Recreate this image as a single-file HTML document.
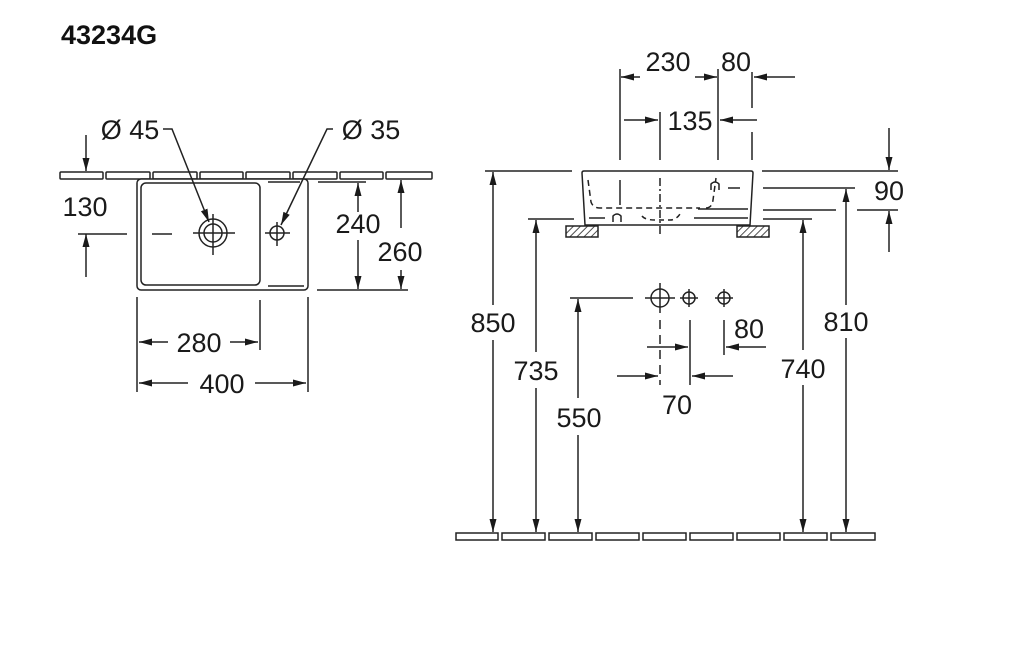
<!DOCTYPE html>
<html><head><meta charset="utf-8"><style>
html,body{margin:0;padding:0;background:#fff;}
svg{display:block;}
text{font-family:"Liberation Sans",sans-serif;fill:#1a1a1a;}
</style></head><body>
<svg width="1024" height="651" viewBox="0 0 1024 651" xmlns="http://www.w3.org/2000/svg">
<defs>
<marker id="a" markerWidth="14" markerHeight="10" refX="13" refY="5" orient="auto" markerUnits="userSpaceOnUse"><path d="M0,1.5 L13,5 L0,8.5 Z" fill="#1a1a1a"/></marker>
<pattern id="h" width="5" height="5" patternUnits="userSpaceOnUse" patternTransform="rotate(45)"><line x1="0" y1="0" x2="0" y2="5" stroke="#222" stroke-width="1.6"/></pattern>
</defs>
<text x="61" y="44" font-size="27" font-weight="bold" style="fill:#111">43234G</text>
<g stroke="#222" stroke-width="1.5" fill="none">
<rect x="60" y="172" width="43" height="7" rx="1"/>
<rect x="106" y="172" width="44" height="7" rx="1"/>
<rect x="153" y="172" width="44" height="7" rx="1"/>
<rect x="200" y="172" width="43" height="7" rx="1"/>
<rect x="246" y="172" width="44" height="7" rx="1"/>
<rect x="293" y="172" width="44" height="7" rx="1"/>
<rect x="340" y="172" width="43" height="7" rx="1"/>
<rect x="386" y="172" width="46" height="7" rx="1"/>
<rect x="137" y="179" width="171" height="111" rx="4" fill="#fff"/>
<rect x="141" y="183" width="119" height="102" rx="5"/>
<line x1="268" y1="182" x2="300" y2="182"/>
<line x1="268" y1="286" x2="304" y2="286"/>
<circle cx="213" cy="233" r="14"/><circle cx="213" cy="233" r="9"/>
<line x1="193" y1="233" x2="235" y2="233"/><line x1="213" y1="214" x2="213" y2="255"/>
<circle cx="277" cy="233" r="7"/>
<line x1="265" y1="233" x2="290" y2="233"/><line x1="277" y1="222" x2="277" y2="246"/>
<line x1="78" y1="234" x2="127" y2="234"/><line x1="152" y1="234" x2="172" y2="234"/>
<line x1="86" y1="135" x2="86" y2="171" marker-end="url(#a)"/>
<line x1="86" y1="277" x2="86" y2="234" marker-end="url(#a)"/>
<polyline points="163,129 172,129 209,222" marker-end="url(#a)"/>
<polyline points="333,129 327,129 281,225" marker-end="url(#a)"/>
<line x1="318" y1="182" x2="366" y2="182"/>
<line x1="317" y1="290" x2="408" y2="290"/>
<line x1="358" y1="212" x2="358" y2="183" marker-end="url(#a)"/>
<line x1="358" y1="240" x2="358" y2="289" marker-end="url(#a)"/>
<line x1="401" y1="228" x2="401" y2="180" marker-end="url(#a)"/>
<line x1="401" y1="270" x2="401" y2="289" marker-end="url(#a)"/>
<line x1="137" y1="297" x2="137" y2="392"/>
<line x1="260" y1="300" x2="260" y2="350"/>
<line x1="308" y1="297" x2="308" y2="392"/>
<line x1="168" y1="342" x2="139" y2="342" marker-end="url(#a)"/>
<line x1="230" y1="342" x2="258" y2="342" marker-end="url(#a)"/>
<line x1="188" y1="383" x2="139" y2="383" marker-end="url(#a)"/>
<line x1="255" y1="383" x2="306" y2="383" marker-end="url(#a)"/>

<path d="M584,171 L751,171 Q753,171 753,173 L750,225 L585,225 L582,173 Q582,171 584,171 Z"/>
<rect x="566" y="226" width="32" height="11" fill="url(#h)"/>
<rect x="737" y="226" width="32" height="11" fill="url(#h)"/>
<path d="M588,180 L591,202 Q593,208 600,208 L700,208" stroke-dasharray="6,4"/>
<path d="M706,208 Q712,208 713,200 L716,178" stroke-dasharray="6,4"/>
<path d="M642,216 Q645,220 655,220 L670,220 Q676,220 680,214" stroke-dasharray="5,4"/>
<path d="M589,218 L605,218" /><path d="M694,218 L748,218"/><path d="M698,209 L748,209"/>
<path d="M613,222 L613,216 Q617,212 621,216 L621,222"/>
<path d="M711,190 L711,184 Q715,180 719,184 L719,190"/><line x1="728" y1="188" x2="740" y2="188"/>
<line x1="620" y1="180" x2="620" y2="205"/>
<line x1="620" y1="69" x2="620" y2="160"/>
<line x1="718" y1="69" x2="718" y2="160"/>
<line x1="752" y1="72" x2="752" y2="108"/><line x1="752" y1="132" x2="752" y2="160"/>
<line x1="660" y1="112" x2="660" y2="160"/>
<line x1="660" y1="178" x2="660" y2="234" stroke-dasharray="8,3,2,3"/>
<line x1="640" y1="77" x2="621" y2="77" marker-end="url(#a)"/>
<line x1="695" y1="77" x2="717" y2="77" marker-end="url(#a)"/>
<line x1="795" y1="77" x2="754" y2="77" marker-end="url(#a)"/>
<line x1="624" y1="120" x2="658" y2="120" marker-end="url(#a)"/>
<line x1="757" y1="120" x2="720" y2="120" marker-end="url(#a)"/>
<line x1="762" y1="171" x2="898" y2="171"/>
<line x1="763" y1="188" x2="855" y2="188"/>
<line x1="763" y1="210" x2="836" y2="210"/><line x1="857" y1="210" x2="898" y2="210"/>
<line x1="763" y1="219" x2="812" y2="219"/>
<line x1="485" y1="171" x2="572" y2="171"/>
<line x1="528" y1="219" x2="574" y2="219"/>
<line x1="889" y1="128" x2="889" y2="170" marker-end="url(#a)"/>
<line x1="889" y1="252" x2="889" y2="211" marker-end="url(#a)"/>
<line x1="493" y1="305" x2="493" y2="172" marker-end="url(#a)"/>
<line x1="493" y1="340" x2="493" y2="532" marker-end="url(#a)"/>
<line x1="536" y1="352" x2="536" y2="220" marker-end="url(#a)"/>
<line x1="536" y1="388" x2="536" y2="532" marker-end="url(#a)"/>
<line x1="578" y1="398" x2="578" y2="299" marker-end="url(#a)"/>
<line x1="578" y1="435" x2="578" y2="532" marker-end="url(#a)"/>
<line x1="803" y1="350" x2="803" y2="220" marker-end="url(#a)"/>
<line x1="803" y1="385" x2="803" y2="532" marker-end="url(#a)"/>
<line x1="846" y1="305" x2="846" y2="189" marker-end="url(#a)"/>
<line x1="846" y1="338" x2="846" y2="532" marker-end="url(#a)"/>
<line x1="570" y1="298" x2="633" y2="298"/>
<circle cx="660" cy="298" r="9"/><line x1="645" y1="298" x2="675" y2="298"/><line x1="660" y1="283" x2="660" y2="313"/>
<circle cx="689" cy="298" r="6"/><line x1="680" y1="298" x2="698" y2="298"/><line x1="689" y1="289" x2="689" y2="307"/>
<circle cx="724" cy="298" r="6"/><line x1="715" y1="298" x2="733" y2="298"/><line x1="724" y1="289" x2="724" y2="307"/>
<line x1="660" y1="320" x2="660" y2="385" stroke-dasharray="9,6"/>
<line x1="690" y1="320" x2="690" y2="385"/>
<line x1="724" y1="320" x2="724" y2="355"/>
<line x1="647" y1="347" x2="688" y2="347" marker-end="url(#a)"/>
<line x1="766" y1="347" x2="726" y2="347" marker-end="url(#a)"/>
<line x1="617" y1="376" x2="658" y2="376" marker-end="url(#a)"/>
<line x1="733" y1="376" x2="692" y2="376" marker-end="url(#a)"/>
<rect x="456" y="533" width="42" height="7"/><rect x="502" y="533" width="43" height="7"/>
<rect x="549" y="533" width="43" height="7"/><rect x="596" y="533" width="43" height="7"/>
<rect x="643" y="533" width="43" height="7"/><rect x="690" y="533" width="43" height="7"/>
<rect x="737" y="533" width="43" height="7"/><rect x="784" y="533" width="43" height="7"/>
<rect x="831" y="533" width="44" height="7"/>
</g>
<g font-size="27" text-anchor="middle">
<text x="130" y="139">Ø 45</text>
<text x="371" y="139">Ø 35</text>
<text x="85" y="216">130</text>
<text x="358" y="233">240</text>
<text x="400" y="261">260</text>
<text x="199" y="352">280</text>
<text x="222" y="393">400</text>
<text x="668" y="71">230</text>
<text x="736" y="71">80</text>
<text x="690" y="130">135</text>
<text x="889" y="200">90</text>
<text x="493" y="332">850</text>
<text x="536" y="380">735</text>
<text x="579" y="427">550</text>
<text x="803" y="378">740</text>
<text x="846" y="331">810</text>
<text x="749" y="338">80</text>
<text x="677" y="414">70</text>
</g>
</svg>
</body></html>
